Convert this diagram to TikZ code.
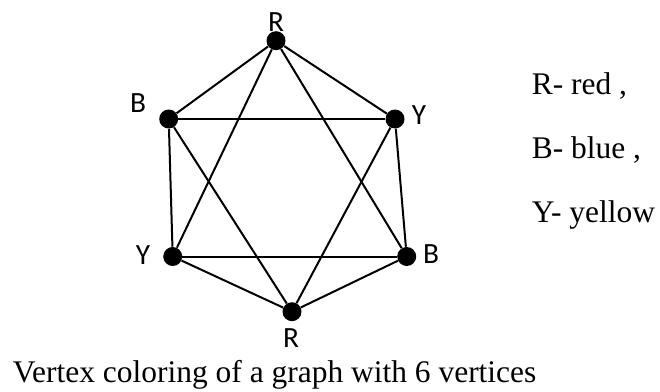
\documentclass[tikz,border=0pt]{standalone}
\usepackage{fontspec}
\setmainfont{Liberation Serif}
\newfontfamily\lblfont{Carlito}
\begin{document}
\begin{tikzpicture}[x=0.75pt,y=-0.75pt,
  vtx/.style={circle,fill=black,inner sep=0pt,minimum size=14.25pt},
  edge/.style={line width=1.5pt},
  vlabel/.style={font=\lblfont\fontsize{22}{24}\selectfont,inner sep=0pt},
  txt/.style={font=\fontsize{23.6}{26}\selectfont,inner sep=0pt,anchor=base west}]
\useasboundingbox (0,0) rectangle (660,392);
\node[vtx] (r1) at (276,40.7) {};
\node[vtx] (b1) at (168.7,119) {};
\node[vtx] (y1) at (395,119) {};
\node[vtx] (y2) at (172.7,256.5) {};
\node[vtx] (b2) at (406.7,256.5) {};
\node[vtx] (r2) at (292,311.7) {};
\foreach \a/\b in {r1/b1,r1/y1,b1/y1,b1/y2,y1/b2,y2/b2,y2/r2,b2/r2,r1/y2,r1/b2,b1/r2,y1/r2}
  \draw[edge] (\a) -- (\b);
\node[vlabel] (lr1) at (276,22) {R};
\node[vlabel] (lb1) at (138,103) {B};
\node[vlabel] (ly1) at (419,115) {Y};
\node[vlabel] (ly2) at (143,255) {Y};
\node[vlabel] (lb2) at (431,254) {B};
\node[vlabel] (lr2) at (291,338) {R};
\node[txt] (k1) at (531.5,95) {R- red ,};
\node[txt] (k2) at (531.5,159) {B- blue ,};
\node[txt] (k3) at (531.5,222) {Y- yellow};
\node[txt] (cap) at (12.7,382) {Vertex coloring of a graph with 6 vertices};
\end{tikzpicture}
\end{document}
